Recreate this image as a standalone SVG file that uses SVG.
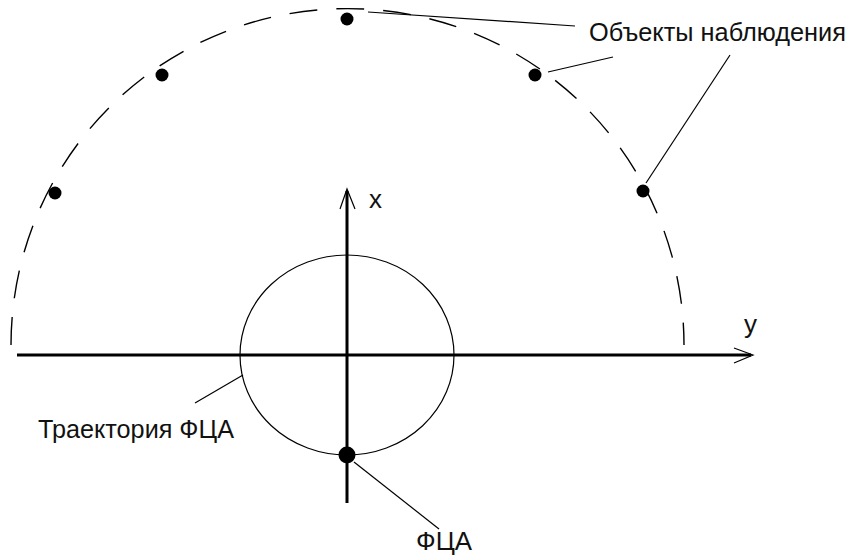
<svg xmlns="http://www.w3.org/2000/svg" width="853" height="557" viewBox="0 0 853 557">
<style>
.lbl{font-family:"Liberation Sans",Arial,sans-serif;font-size:26px;fill:#111}
.axis{stroke:#000;stroke-width:3;fill:none}
.thin{stroke:#000;stroke-width:1.2;fill:none}
.dot{fill:#000}
</style>
<rect width="853" height="557" fill="#fff"/>
<g id="orbit">
<path d="M 11,345 A 336 336 0 0 1 684,345" stroke="#000" stroke-width="1.4" fill="none" stroke-dasharray="28 19"/>
</g>
<g id="trajectory">
<ellipse cx="347" cy="355" rx="107" ry="100" class="thin"/>
</g>
<g id="axis-y">
<line x1="17" y1="355" x2="751" y2="355" class="axis"/>
<path d="M 734,348 L 753,355 L 734,363" class="thin"/>
<text x="744" y="333" class="lbl">y</text>
</g>
<g id="axis-x">
<line x1="347" y1="503" x2="347" y2="191" class="axis"/>
<path d="M 340,209 L 347,189 L 355,209" class="thin"/>
<text x="369" y="208" class="lbl">x</text>
</g>
<g id="objects">
<circle cx="347" cy="19" r="6.5" class="dot"/>
<circle cx="162" cy="75" r="6.5" class="dot"/>
<circle cx="55" cy="193" r="6.5" class="dot"/>
<circle cx="535" cy="75" r="6.5" class="dot"/>
<circle cx="643" cy="191" r="6.5" class="dot"/>
</g>
<g id="fca">
<circle cx="347" cy="455" r="8.5" class="dot"/>
</g>
<g id="label-objects">
<text x="589" y="41" class="lbl" textLength="257" lengthAdjust="spacingAndGlyphs">Объекты наблюдения</text>
</g>
<g id="label-trajectory">
<text x="38" y="438" class="lbl" textLength="196" lengthAdjust="spacingAndGlyphs">Траектория ФЦА</text>
</g>
<g id="label-fca">
<text x="416" y="550" class="lbl" font-size="25" textLength="56" lengthAdjust="spacingAndGlyphs">ФЦА</text>
</g>
<g id="connectors">
<line x1="368" y1="12" x2="575" y2="26" class="thin"/>
<line x1="548" y1="72" x2="613" y2="57" class="thin"/>
<line x1="646" y1="183" x2="730" y2="55" class="thin"/>
<line x1="243" y1="375" x2="195" y2="403" class="thin"/>
<line x1="354" y1="462" x2="439" y2="529" class="thin"/>
</g>
</svg>
